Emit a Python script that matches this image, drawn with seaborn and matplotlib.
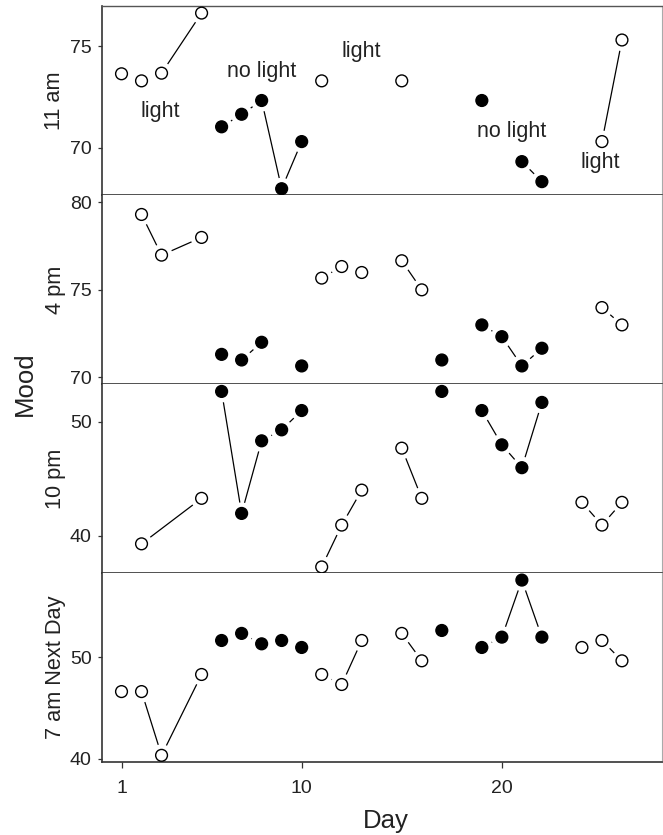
import numpy as np
import pandas as pd
import matplotlib
matplotlib.use("Agg")
import matplotlib.pyplot as plt
import seaborn as sns

nan = np.nan

# Study days (days 4, 14, 18 and 23 have no record) and lighting condition
DAYS = [1, 2, 3, 5, 6, 7, 8, 9, 10, 11, 12, 13, 15, 16, 17, 19, 20, 21, 22, 24, 25, 26]
LIGHT = [1, 1, 1, 1, 0, 0, 0, 0, 0, 1, 1, 1, 1, 1, 0, 0, 0, 0, 0, 1, 1, 1]

# Mood scores at each time of day (nan = not recorded)
MOOD_11AM = [73.65, 73.30, 73.68, 76.65, 71.03, 71.65, 72.33, 67.97, 70.30, 73.30, nan,
             nan, 73.30, nan, nan, 72.33, nan, 69.31, 68.32, nan, 70.30, 75.32]
MOOD_4PM = [nan, 79.29, 76.97, 77.98, 71.31, 70.99, 72.00, nan, 70.65, 75.66, 76.32,
            75.98, 76.65, 74.99, 70.99, 72.99, 72.32, 70.65, 71.66, nan, 73.98, 72.99]
MOOD_10PM = [nan, 39.30, nan, 43.28, 52.63, 41.96, 48.31, 49.27, 50.96, 37.28, 40.94,
             44.00, 47.67, 43.28, 52.63, 50.96, 47.96, 45.96, 51.67, 42.93, 40.94, 42.93]
MOOD_7AM = [46.63, 46.63, 40.33, 48.32, 51.68, 52.38, 51.35, 51.68, 50.99, 48.32, 47.33,
            51.68, 52.38, 49.67, 52.67, 50.99, 52.01, 57.65, 52.01, 50.99, 51.68, 49.67]

# Consecutive observations joined by a line within each panel
RUNS_11AM = [[1, 2, 3, 5], [6, 7, 8, 9, 10], [11], [15], [19], [21, 22], [25, 26]]
RUNS_4PM = [[2, 3, 5], [6, 7, 8], [10], [11, 12, 13], [15, 16], [17], [19, 20, 21, 22], [25, 26]]
RUNS_10PM = [[2, 5], [6, 7, 8, 9, 10], [11, 12, 13], [15, 16], [17], [19, 20, 21, 22], [24, 25, 26]]
RUNS_7AM = [[1, 2, 3, 5], [6, 7, 8, 9, 10], [11, 12, 13], [15, 16], [17], [19, 20, 21, 22], [24, 25, 26]]

PANEL_NAMES = ["11 am", "4 pm", "10 pm", "7 am Next Day"]
PANEL_YTICKS = [[70, 75], [70, 75, 80], [40, 50], [40, 50]]
PANEL_YLIM = [(67.66, 77.0), (69.62, 80.4), (36.75, 53.28), (39.67, 58.35)]
X_TICKS = [1, 10, 20]

# Condition labels written in the top panel: (text, day, mood)
LABELS_11AM = [("light", 2.95, 71.8), ("no light", 8.0, 73.76), ("light", 13.0, 74.75),
               ("no light", 20.5, 70.8), ("light", 24.9, 69.25)]

sns.set_theme(style="ticks")
FONT = ["Liberation Sans", "DejaVu Sans"]
plt.rcParams["font.family"] = FONT

W, H = 663, 835
fig = plt.figure(figsize=(W / 100, H / 100), dpi=100)

left_px, right_px, top_px, panel_px = 101.5, 662.0, 6.0, 189.0
GAP_PX = 11.0  # blank space left around each marker, as in a "both" plot

series = [MOOD_11AM, MOOD_4PM, MOOD_10PM, MOOD_7AM]
runs_all = [RUNS_11AM, RUNS_4PM, RUNS_10PM, RUNS_7AM]
ink = "#222222"
axes = []
for i, (mood, runs) in enumerate(zip(series, runs_all)):
    y0 = 1 - (top_px + (i + 1) * panel_px) / H
    ax = fig.add_axes([left_px / W, y0, (right_px - left_px) / W, panel_px / H])
    axes.append(ax)
    ax.set_xlim(0, 28.0)
    ax.set_ylim(*PANEL_YLIM[i])

    df = pd.DataFrame({"day": DAYS, "mood": mood,
                       "cond": ["light" if l else "no light" for l in LIGHT]}).dropna()

    sns.scatterplot(data=df, x="day", y="mood", hue="cond",
                    palette={"light": "white", "no light": "black"},
                    s=72, edgecolor="black", linewidth=1.0, legend=False,
                    ax=ax, clip_on=False, zorder=4)

    # connecting segments, trimmed near each marker
    lookup = dict(zip(df["day"], df["mood"]))
    trans = ax.transData
    inv = trans.inverted()
    for run in runs:
        for a, b in zip(run[:-1], run[1:]):
            p0 = trans.transform((a, lookup[a]))
            p1 = trans.transform((b, lookup[b]))
            d = p1 - p0
            L = np.hypot(*d)
            if L <= 2 * GAP_PX:
                continue
            u = d / L
            q0 = inv.transform(p0 + u * GAP_PX)
            q1 = inv.transform(p1 - u * GAP_PX)
            ax.plot([q0[0], q1[0]], [q0[1], q1[1]], color="black", lw=0.9,
                    solid_capstyle="butt", zorder=3)

    ax.set_yticks(PANEL_YTICKS[i])
    ax.set_xticks(X_TICKS)
    ax.set_xlabel("")
    ax.set_ylabel("")
    ax.tick_params(axis="y", length=3, width=0.9, pad=4, labelsize=14,
                   colors="#333333", labelcolor=ink)
    if i < 3:
        ax.tick_params(axis="x", length=0, labelbottom=False)
    else:
        ax.tick_params(axis="x", length=4, width=0.9, pad=9, labelsize=14,
                       colors="#333333", labelcolor=ink)

    for side in ["left", "bottom"]:
        ax.spines[side].set_visible(True)
        ax.spines[side].set_color("#333333")
        ax.spines[side].set_linewidth(1.2)
    ax.spines["top"].set_visible(i == 0)
    ax.spines["top"].set_color("#555555")
    ax.spines["top"].set_linewidth(1.0)
    ax.spines["right"].set_visible(True)
    ax.spines["right"].set_color("#aaaaaa")
    ax.spines["right"].set_linewidth(0.8)

    yc = 1 - (top_px + (i + 0.5) * panel_px) / H
    fig.text(55 / W, yc, PANEL_NAMES[i], rotation=90, ha="center", va="center",
             fontsize=15.7, color=ink)

for text, day, val in LABELS_11AM:
    axes[0].text(day, val, text, ha="center", va="center", fontsize=15.5, color=ink)

fig.text(25 / W, 1 - 384 / H, "Mood", rotation=90, ha="center", va="center",
         fontsize=18.5, color=ink)
fig.text(386 / W, 1 - 821 / H, "Day", ha="center", va="center", fontsize=18.5, color=ink)

fig.savefig("out.png", dpi=100)
